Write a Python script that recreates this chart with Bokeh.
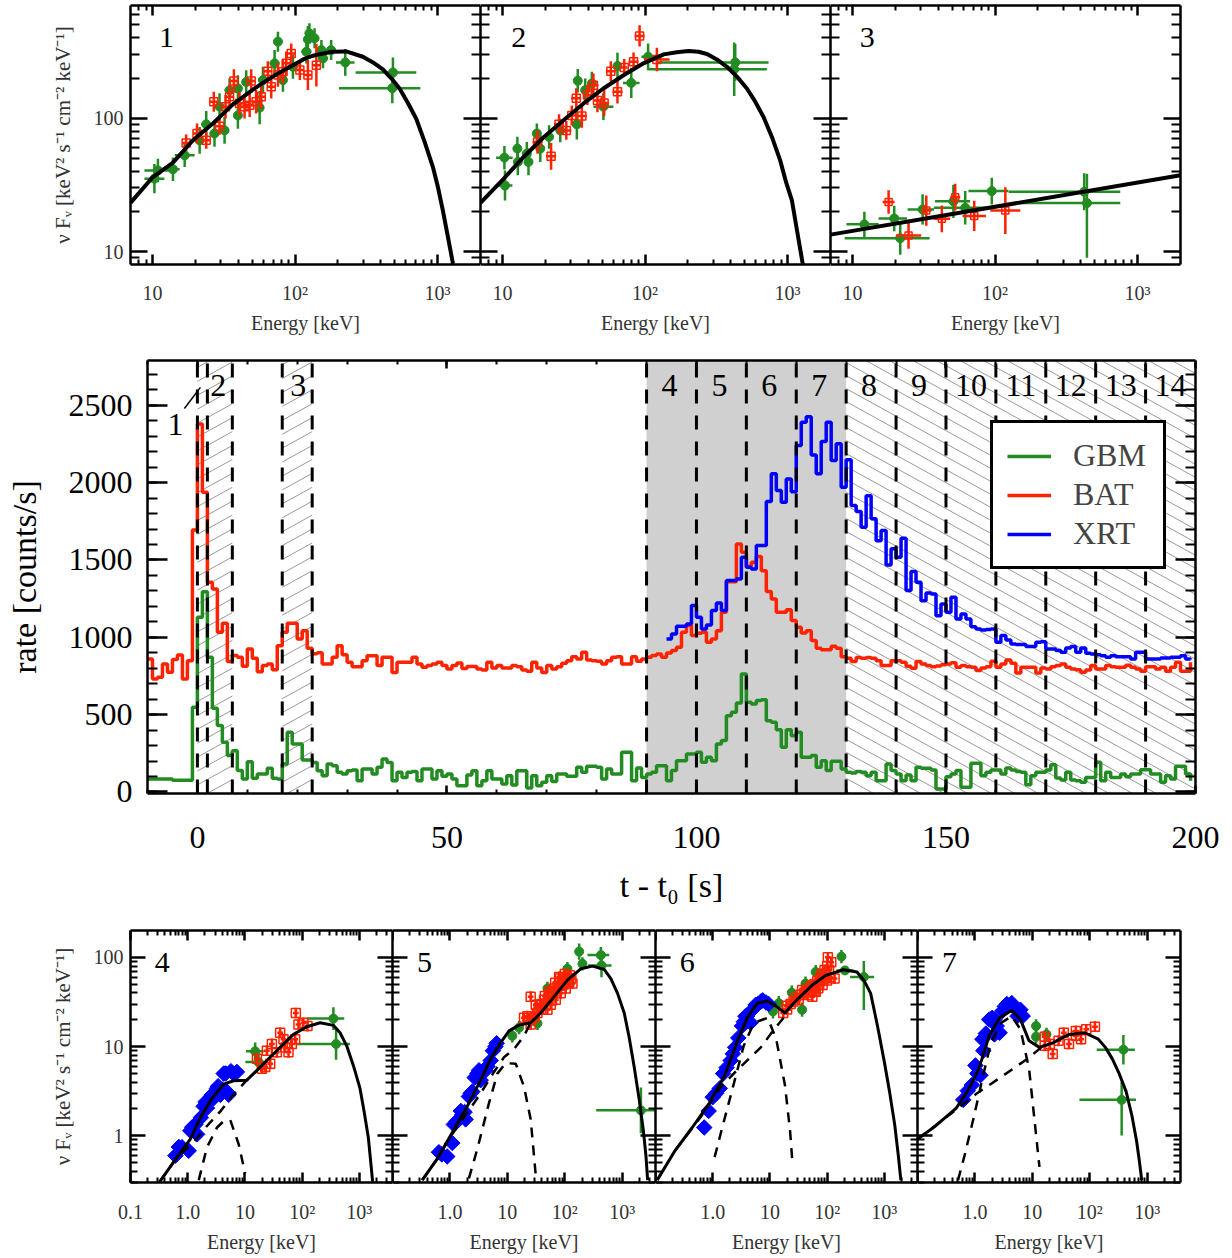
import numpy as np
from bokeh.core.properties import value
from bokeh.embed import file_html
from bokeh.layouts import column, row
from bokeh.models import FixedTicker, Legend, LegendItem, LinearAxis, LogAxis, Range1d
from bokeh.plotting import figure
from bokeh.resources import INLINE

FONT = "Liberation Serif"
GREEN = "#228B22"
RED = "#FF2200"
BLUE = "#0000FF"

# light curves, one value per 1 s bin
rate_t = np.arange(-10, 200)
xrt_t = np.arange(94, 200)
bat_rate = [860,731,741,828,774,856,886,731,849,1694,2380,1938,1356,1313,1032,1091,843,882,871,813,
            925,864,778,817,828,791,946,1032,1091,1091,989,1043,929,893,900,827,827,871,946,888,
            838,810,810,849,881,881,817,871,871,773,838,838,838,871,827,806,817,827,838,817,
            795,817,834,799,812,812,795,789,838,802,817,802,802,817,810,789,780,838,802,773,
            817,795,810,832,849,875,860,903,853,849,845,827,849,871,875,827,827,875,845,860,
            871,882,892,871,899,914,935,1032,1076,1011,1026,1032,968,989,1043,1162,1360,1360,1604,1550,
            1459,1485,1522,1431,1296,1248,1162,1162,1179,1108,1065,1028,1043,979,929,920,920,942,929,875,
            864,843,869,864,869,864,849,817,817,849,849,838,813,800,843,828,817,810,815,823,
            828,836,806,817,810,806,785,802,810,845,806,828,853,832,769,806,806,806,769,802,
            795,810,817,828,806,795,791,774,789,817,795,795,817,810,806,806,819,806,795,780,
            810,810,795,806,780,806,838,780,780,838]
gbm_rate = [84,84,84,84,84,75,75,75,75,547,1130,1295,871,541,429,321,235,267,138,84,
            196,88,116,116,153,88,84,181,386,310,310,207,206,191,137,105,181,170,127,116,
            137,142,73,148,148,116,159,213,191,73,127,94,127,133,73,148,148,84,137,101,
            116,84,40,40,109,137,40,73,137,84,84,51,105,45,137,137,25,105,40,62,
            105,68,116,116,101,101,159,127,166,166,159,84,148,116,116,256,256,73,155,94,
            116,127,170,170,73,138,202,202,246,246,256,192,224,202,310,332,493,515,575,763,
            580,569,591,597,461,450,403,289,403,364,386,224,224,235,159,202,138,198,198,149,
            127,123,133,127,105,127,73,73,181,138,116,73,109,73,159,153,153,142,19,19,
            99,116,138,30,30,185,185,105,127,142,142,116,155,142,133,127,47,105,127,127,
            142,176,90,77,127,77,73,62,94,94,192,73,127,94,94,116,99,116,116,144,
            144,116,116,62,105,84,166,166,116,73]
xrt_rate = [989,1022,1071,1071,1086,1205,1130,1054,1080,1173,1222,1173,1367,1367,1377,1518,1453,1442,1593,1593,
            1878,2057,1949,1873,2024,1942,2240,2391,2427,2179,2057,2266,2391,2143,2251,1970,2149,1852,1813,1712,
            1916,1766,1625,1690,1468,1572,1518,1640,1302,1425,1356,1237,1287,1280,1140,1216,1162,1259,1119,1151,
            1119,1069,1054,1048,1050,1054,968,1011,983,957,953,953,940,940,968,972,925,925,914,903,
            931,940,903,931,897,892,888,881,871,881,875,875,875,860,903,903,860,860,860,866,
            866,871,871,881,860,856]
interval_edges = [0, 2, 7, 17, 23, 90, 100, 110, 120, 130, 140, 150, 160, 170, 180, 190]
interval_names = ["1", "2", "3", "4", "5", "6", "7", "8", "9", "10", "11", "12", "13", "14"]
interval_t = [-4.4, 4.2, 20.2, 94.6, 104.6, 114.6, 124.6, 134.6, 144.6, 155, 165, 175, 185, 195]
interval_y = [2376, 2628, 2628, 2628, 2628, 2628, 2628, 2628, 2628, 2628, 2628, 2628, 2628, 2628]

# top row spectra
model1_e = [7,10.05,13.9,19.2,26.5,36.6,50.6,59.4,69.8,82,96.6,114,133,157,184,228,299,352,413,473,541,619,708,811,927,1005,1089,1183,1282]
model1_f = [23.2,36.2,46.4,68.3,91.2,127,164,184,205,227,250,276,294,306,315,317,289,262,232,199,167,130,99,66.4,43,30.5,20.3,12.8,8.1]
gbm1_e = [10.3,10.9,13.9,16.8,21.4,23.8,27.2,29.5,32,34.7,39.7,39.7,45.4,56.4,59.5,71.8,75.8,82.2,96.6,120,123,126,137,153,157,179,225,486,481]
gbm1_f = [35.2,40.6,41.4,52.7,68.3,90,76.8,122,81,162,105,167,187,120,193,258,375,193,243,315,390,433,397,324,281,324,262,220,168]
gbm1_xl = [.07,.094,.047,.07,.047,.035,.035,.035,.023,.035,.023,.023,.023,.023,.035,.035,.023,.023,.023,.035,.023,.023,.023,.035,.035,.035,.065,.262,.374]
gbm1_xh = [.07,.094,.047,.07,.047,.035,.035,.035,.023,.035,.023,.023,.023,.023,.035,.035,.023,.023,.023,.035,.023,.023,.023,.035,.035,.035,.065,.164,.197]
gbm1_dy = [.11,.088,.088,.088,.1,.1,.1,.1,.1,.088,.1,.1,.088,.125,.1,.1,.075,.088,.09,.088,.1,.075,.075,.075,.075,.075,.1,.113,.113]
bat1_e = [17.2,20.5,23.8,26.9,29.5,32.5,34.7,37.2,40.7,44.2,48,49.2,53.3,57.9,64.4,68,75.8,82.2,86.7,94,108,123,141]
bat1_f = [65.3,76.8,68.3,133,87,122,145,190,129,122,125,190,133,145,225,172,211,223,258,306,230,211,250]
bat1_dy = [.063,.075,.063,.075,.063,.088,.088,.088,.088,.088,.088,.088,.088,.088,.075,.088,.088,.088,.088,.075,.075,.113,.16]

model2_e = [7,10.2,14,19.4,26.8,37,51,70.6,97.5,135,167,202,237,272,319,375,441,518,593,678,776,887,977,1072,1175,1279]
model2_f = [23.2,35.2,51,72,96.6,129,167,210,258,301,312,319,315,303,276,243,205,167,133,102,72.4,48.3,33,24.2,13.6,8]
gbm2_e = [10.3,10.4,12.7,12.8,14.8,15.2,17.4,18.4,21.2,25.4,33.2,33.7,38,42.3,51,64,80,105,429,422]
gbm2_f = [50.6,31.3,59.2,47,54.2,47,76.8,59.2,72.4,81,90,191,162,182,122,246,184,289,262,233]
gbm2_xl = [.058,.052,.023,.023,.023,.028,.023,.028,.028,.028,.028,.023,.023,.023,.07,.028,.058,.047,.551,.61]
gbm2_xh = [.058,.052,.023,.023,.023,.028,.023,.028,.028,.028,.028,.023,.023,.023,.07,.028,.058,.047,.234,.229]
gbm2_dy = [.088,.113,.088,.1,.088,.1,.075,.1,.088,.088,.113,.088,.088,.088,.1,.1,.113,.1,.138,.2]
bat2_e = [17.6,21.9,24.9,28,30.6,32.9,36,39.4,43.4,46.3,51.6,57.5,64,71.4,83,91.5,121]
bat2_f = [66.4,51.8,90,81,105,141,104,149,177,136,130,225,158,240,265,414,276]
bat2_dy = [.088,.1,.075,.07,.075,.075,.088,.075,.088,.088,.1,.075,.088,.063,.07,.08,.088]
bat2_dx = [.035,.035,.035,.035,.028,.035,.035,.028,.035,.028,.035,.035,.035,.023,.035,.035,.09]

model3_e = [7, 2000]
model3_f = [13.4, 37.3]
gbm3_e = [12.1,19.6,21.6,31,51,61.7,94.8,422,441]
gbm3_f = [16,17.7,12.6,20.7,23.8,21.3,28.4,28.1,23.1]
gbm3_xl = [.126,.11,.39,.105,.129,.22,.164,.53,.47]
gbm3_xh = [.1,.089,.206,.08,.117,.15,.117,.253,.234]
gbm3_yl = [.095,.095,.125,.113,.125,.125,.1,.138,.41]
gbm3_yh = [.095,.095,.125,.113,.125,.125,.1,.138,.22]
bat3_e = [17.9,24.7,32.9,42.3,52.5,71.4,118]
bat3_f = [23.5,13.2,20.3,17.6,25.6,18.5,20.3]
bat3_dx = [.042,.089,.035,.058,.035,.082,.105]
bat3_dy = [.088,.1,.113,.1,.1,.113,.175]

# bottom row spectra
model4_e = [.325,.652,1.11,1.66,2.65,4.25,6.34,10.8,16.2,24.2,41.3,70.6,121,206,352,460,601,786,1028,1222,1436,1709]
model4_f = [.306,.577,.918,1.59,2.64,3.8,4.14,4.21,5.42,6.98,9.8,13.7,16.7,18.5,17.3,14.3,10.2,6.15,3.4,1.81,.96,.306]
pl4_e = [.325,.652,1.19,2.17,3.72,6.34,10.1,16.2]
pl4_f = [.306,.577,.81,1.29,1.88,2.88,4.03,5.42]
bb4_e = [1.56,2.17,3.25,4.25,5.55,7.76,10.1]
bb4_f = [.319,.745,1.24,1.46,1.5,.81,.378]
gbm4_e = [15.1,17.3,352,392]
gbm4_f = [8.85,6.7,20.6,10.7]
gbm4_xl = [.16,.23,.465,.69]
gbm4_xh = [.15,.12,.19,.244]
gbm4_dy = [.1,.09,.128,.176]
bat4_e = [16.2,19.8,22.7,24.2,27.7,29.6,36.1,41.3,47.2,50.5,57.8,66,75.5,77.6,86.3,105,124]
bat4_f = [7.29,5.66,5.9,9,6.42,10.7,8.63,14.3,12.1,9.8,8.63,10.7,12.1,23.8,17.7,18.5,17]
xrt4_e = [.61,.7,.796,1.04,1.11,1.2,1.36,1.46,1.7,1.9,2.05,2.17,2.32,2.5,2.65,2.84,3,3.25,3.4,3.72,4,4.25,4.6,4.85,5.19,5.7,6.34,7.25]
xrt4_f = [.6,.75,.745,.68,1.14,1.25,1.34,1.04,1.6,2.14,2.4,2.05,2.43,2.7,2.88,2.64,3,3.4,3.6,2.88,3.3,4.98,5,3.13,2.88,5.3,4.98,5.2]

model5_e = [.329,.601,1.1,2,3.43,5.12,7.65,10.7,16,25.5,38.1,65.2,111,190,304,486,634,830,1084,1325,1618,1980,2323,2590,2770]
model5_f = [.319,.553,1.09,2.14,4.21,7.29,11.1,15,17.4,18.5,23.8,36.3,55.5,74.5,79.8,73.3,57.8,39.5,23.8,12.6,5.9,2.53,1.18,.6,.319]
pl5_e = [.329,.601,1.1,2,3.43,5.85,8.75,13.1,19.5,25.5]
pl5_f = [.319,.553,1.05,1.81,3,5.2,7.6,9.4,13.2,18.5]
bb5_e = [2.14,3,4.79,6.7,9.35,14,19.5,25.5,31.2]
bb5_f = [.333,.713,2.33,4.98,6.53,6.42,3.55,1.53,.363]
gbm5_e = [12.2,16,33.4,49.9,111,178,203,425,436,2118]
gbm5_f = [13.2,16.3,18.2,44.9,74.5,116,84.6,106,81,1.93]
gbm5_xl = [.06,.06,.06,.06,.06,.06,.06,.233,.233,.78]
gbm5_xh = [.06,.06,.06,.06,.06,.06,.06,.145,.175,.35]
gbm5_dy = [.075,.075,.075,.075,.075,.09,.075,.09,.13,.257]
bat5_e = [19.5,22.3,25.5,29.2,31.2,33.4,38.1,43.6,46.7,49.9,53.3,57,65.2,69.7,79.6,85.1,91,97.3,104,119,136,25.5,
          30,35,40,45,52,60,68,75,82,90,100,110,122,130,60,72,85,95]
bat5_f = [21,21.9,17.7,21,29.4,23.8,25.9,33.4,29.4,25.9,41.2,29.4,44.9,33.4,60.3,39.5,48.9,60.3,44.9,53.1,50.9,36.3,
          22,27,30,37,35,42,52,47,58,55,65,60,63,58,33,40,48,52]
xrt5_e = [.643,.72,.897,1.1,1.17,1.3,1.44,1.55,1.64,1.8,1.88,2.14,2.3,2.45,2.7,3,3.21,3.43,3.6,4.19,4.5,5.12,5.6,6.2,6.52]
xrt5_f = [.655,.62,.587,.83,1.34,1.45,1.53,1.9,1.73,1.85,1.53,2.76,3,3.13,4.5,4.98,5.42,4.21,5.2,5.42,6,6.98,9,10,10.9]

model6_e = [.107,.22,.439,.875,1.63,2.64,4,6.05,9.16,12.9,18.3,27.7,55.1,95.7,191,332,438,577,760,1002,1233,1517,1742,1945]
model6_f = [.319,.684,1.24,2.33,4.78,11.1,21,30.7,32.5,28.2,23.8,32,48.9,62.9,72.6,68.5,55.5,39.5,17,6.7,3.13,1.34,.628,.319]
pl6_e = [.22,.664,1.33,2.64,6.95,11.3,18.3]
pl6_f = [.684,1.73,3.4,5.42,9.8,15,21.9]
bb6_e = [1.08,1.42,2.15,3.48,5.27,9.16,12.9,18.3,22.5,24.8]
bb6_f = [.577,1.14,3.13,10.2,18.5,21,12.1,3.71,1.14,.488]
gbm6_e = [11.3,14.3,24.1,36.5,41.9,63.2,178,205,438]
gbm6_f = [24.8,30.7,40.2,25.9,50.9,68.5,102,71.4,60.3]
gbm6_xl = [.06,.06,.06,.06,.06,.06,.03,.15,.24]
gbm6_xh = [.06,.06,.06,.06,.06,.06,.03,.15,.18]
gbm6_yl = [.08,.08,.08,.08,.08,.08,.075,.05,.37]
gbm6_yh = [.08,.08,.08,.08,.08,.08,.075,.05,.18]
bat6_e = [17.1,19.6,25.8,31.8,36.5,44.9,51.5,55.2,63.2,72.6,83.4,95.7,103,118,135,
          20,23,28,34,40,47,53,60,67,75,82,90,100,108,112,100,90,80,70,60]
bat6_f = [23.8,28.7,32,33.4,43,37.9,46.8,36.3,41.2,48.9,48.9,65.6,100,88.3,57.8,
          26,30,35,38,40,42,48,50,54,58,60,72,80,72,60,55,58,65,45,42]
xrt6_e = [.711,.85,1,1.15,1.33,1.52,1.75,2.06,2.25,2.47,2.8,3.25,3.5,3.73,4,4.59,5,5.65,6.2,6.95,7.5,8.55,9.5]
xrt6_f = [1.24,1.9,2.71,3,3.4,4.98,5.8,6.98,8.3,9.8,12.5,17,19,21.9,22,18.5,26,29.4,30,32,33,31.2,30]

model7_e = [.1,.206,.474,.771,1.17,1.77,2.69,4.38,6.2,8.77,13.3,23.2,43.4,81.1,141,187,247,325,430,544,652,728,803]
model7_f = [.918,1.29,2.05,3.27,5.66,13.2,21,25.5,20.1,11.6,9.8,11.1,13.7,14.3,12.1,9.8,7.29,4.98,3.13,1.66,.881,.53,.319]
pl7_e = [.1,.237,.474,1.09,2.88,8.18,14.3]
pl7_f = [.918,1.4,1.97,3,4.58,7.29,9.8]
bb7_e = [.508,.671,.95,1.35,1.9,2.88,4.38,6.2,8.77,10.8,13.3]
bb7_f = [.319,.628,1.59,4.39,11.1,18.5,21.9,15.6,5.66,1.59,.448]
gbm7_e = [11.6,11.6,17.6,385,359]
gbm7_f = [17,12.9,13.7,9.24,2.53]
gbm7_xl = [.06,.06,.06,.465,.735]
gbm7_xh = [.06,.06,.06,.2,.25]
gbm7_yl = [.075,.075,.075,.165,.4]
gbm7_yh = [.075,.075,.075,.165,.2]
bat7_e = [16.4,16.4,20.2,22.6,28.6,35.2,43.4,57.3,57.3,70.5,86.9,123]
bat7_f = [12.9,10.2,10.7,8.28,11.6,14.3,10.7,13.2,15,12.1,15.6,16.7]
xrt7_e = [.627,.75,.885,1.02,1.1,1.25,1.35,1.4,1.55,1.77,2,2.19,2.19,2.4,2.69,3,3.32,3.6,4.38,4.8,5.5,6.2,6.8]
xrt7_f = [2.53,3.2,3.71,6.15,5,4.78,12.1,9,14,20.1,21,20.1,13.7,17,14.3,25,28.2,30,30.7,28,22,25.9,22]

top_x_major = [10, 100, 1000]
top_y_major = [10, 100]
bot_x_major = [0.1, 1, 10, 100, 1000]
bot_y_major = [1, 10, 100]
mantissa = [2, 3, 4, 5, 6, 7, 8, 9]
flux_label = "\u03bd F\u1d65 [keV\u00b2 s\u207b\u00b9 cm\u207b\u00b2 keV\u207b\u00b9]"


def decades(major, lo, hi):
    minors = [m * d for d in major + [major[0] / 10] for m in mantissa]
    return FixedTicker(ticks=major, minor_ticks=[v for v in minors if lo < v < hi])


def style_axis(ax, major, minor, size="20px", color="#333333", standoff=18):
    ax.major_tick_in = major
    ax.major_tick_out = 0
    ax.minor_tick_in = minor
    ax.minor_tick_out = 0
    ax.axis_line_width = 2.5
    ax.major_tick_line_width = 2.5
    ax.minor_tick_line_width = 2
    ax.major_label_text_font = FONT
    ax.major_label_text_font_size = size
    ax.major_label_text_color = color
    ax.major_label_standoff = standoff
    ax.axis_label_text_font = FONT
    ax.axis_label_text_font_style = "normal"
    ax.axis_label_text_font_size = size
    ax.axis_label_text_color = color


def bare_axis(ax, major, minor):
    # frame side: ticks only, labels blanked
    style_axis(ax, major, minor, standoff=0)
    ax.major_label_text_font_size = "1px"
    ax.major_label_text_color = None


def spectrum_panel(width, height, borders, xlim, ylim, x_major, y_major, x_labels, y_labels, xticks, yticks,
                   show_y, tick_gap, label_gap):
    left, right, top, bottom = borders
    p = figure(width=width, height=height, x_axis_type="log", y_axis_type="log",
               x_range=Range1d(*xlim), y_range=Range1d(*ylim),
               min_border_left=left, min_border_right=right, min_border_top=top, min_border_bottom=bottom,
               toolbar_location=None, output_backend="svg", outline_line_color=None)
    p.grid.visible = False
    p.xaxis.ticker = decades(x_major, *xlim)
    p.yaxis.ticker = decades(y_major, *ylim)
    style_axis(p.xaxis[0], xticks[0], xticks[1], standoff=tick_gap)
    p.xaxis.major_label_overrides = x_labels
    p.xaxis.axis_label = "Energy [keV]"
    p.xaxis.axis_label_standoff = label_gap
    if show_y:
        style_axis(p.yaxis[0], yticks[0], yticks[1], standoff=7)
        p.yaxis.major_label_overrides = y_labels
        p.yaxis.axis_label = flux_label
        p.yaxis.axis_label_text_font_size = "21px"
        p.yaxis.axis_label_standoff = 16
    else:
        bare_axis(p.yaxis[0], *yticks)
    for ax, where, major, minor, tk in [(LogAxis(), "above", *xticks, decades(x_major, *xlim)),
                                        (LogAxis(), "right", *yticks, decades(y_major, *ylim))]:
        ax.ticker = tk
        bare_axis(ax, major, minor)
        p.add_layout(ax, where)
    return p


def error_points(p, e, f, xl, dy, color, marker, size, xh=None, yh=None):
    e, f, xl, dy = map(np.array, (e, f, xl, dy))
    xh = xl if xh is None else np.array(xh)
    yh = dy if yh is None else np.array(yh)
    p.segment(e * 10 ** -xl, f, e * 10 ** xh, f, line_color=color, line_width=2.5)
    p.segment(e, f * 10 ** -dy, e, f * 10 ** yh, line_color=color, line_width=2.5)
    if marker == "square":
        p.scatter(e, f, marker="square", size=size, fill_color=None, line_color=color, line_width=1.5)
    else:
        p.scatter(e, f, marker="circle", size=size, fill_color=color, line_color=color)


def tag(p, x, y, text, size):
    p.text([x], [y], text=[text], text_align="center", text_baseline="middle",
           text_font=value(FONT), text_font_size=size, text_color="black")


top_x_labels = {10: "10", 100: "10\u00b2", 1000: "10\u00b3"}
top_y_labels = {10: "10", 100: "100"}
bot_x_labels = {1: "1.0", 10: "10", 100: "10\u00b2", 1000: "10\u00b3"}
bot_y_labels = {1: "1", 10: "10", 100: "100"}
top_args = dict(height=342, xlim=(7, 2000), ylim=(8, 700), x_major=top_x_major, y_major=top_y_major,
                x_labels=top_x_labels, y_labels=top_y_labels, xticks=(10, 5), yticks=(17, 9),
                tick_gap=17, label_gap=5)
bot_args = dict(height=340, xlim=(0.1, 3800), ylim=(0.3, 200), x_major=bot_x_major, y_major=bot_y_major,
                y_labels=bot_y_labels, xticks=(10, 5), yticks=(15, 7), tick_gap=18, label_gap=5)

# top row
p1 = spectrum_panel(width=480, borders=(130, 0, 2, 81), show_y=True, **top_args)
error_points(p1, gbm1_e, gbm1_f, gbm1_xl, gbm1_dy, GREEN, "circle", 9, xh=gbm1_xh)
error_points(p1, bat1_e, bat1_f, [.028] * len(bat1_e), bat1_dy, RED, "square", 8)
p1.line(model1_e, model1_f, line_color="black", line_width=4)
tag(p1, 12.5, 400, "1", "30px")

p2 = spectrum_panel(width=350, borders=(0, 0, 2, 81), show_y=False, **top_args)
error_points(p2, gbm2_e, gbm2_f, gbm2_xl, gbm2_dy, GREEN, "circle", 9, xh=gbm2_xh)
error_points(p2, bat2_e, bat2_f, bat2_dx, bat2_dy, RED, "square", 8)
p2.line(model2_e, model2_f, line_color="black", line_width=4)
tag(p2, 13, 400, "2", "30px")

p3 = spectrum_panel(width=354, borders=(0, 4, 2, 81), show_y=False, **top_args)
error_points(p3, gbm3_e, gbm3_f, gbm3_xl, gbm3_yl, GREEN, "circle", 9, xh=gbm3_xh, yh=gbm3_yh)
error_points(p3, bat3_e, bat3_f, bat3_dx, bat3_dy, RED, "square", 7)
p3.line(model3_e, model3_f, line_color="black", line_width=4)
tag(p3, 12.7, 400, "3", "30px")

# light curve
mid = figure(width=1220, height=570, x_range=Range1d(-10, 200), y_range=Range1d(-10, 2790),
             min_border_left=147, min_border_right=25, min_border_top=15, min_border_bottom=122,
             toolbar_location=None, output_backend="svg", outline_line_color=None)
mid.grid.visible = False
mid.xaxis.ticker = FixedTicker(ticks=[0, 50, 100, 150, 200], minor_ticks=list(range(-10, 200, 10)))
mid.yaxis.ticker = FixedTicker(ticks=[0, 500, 1000, 1500, 2000, 2500], minor_ticks=list(range(0, 2800, 100)))
style_axis(mid.xaxis[0], 8, 4, size="32px", color="black", standoff=33)
style_axis(mid.yaxis[0], 20, 10, size="32px", color="black", standoff=15)
mid.xaxis.axis_label = "t - t\u2080 [s]"
mid.yaxis.axis_label = "rate [counts/s]"
mid.xaxis.axis_label_text_font_size = "34px"
mid.yaxis.axis_label_text_font_size = "34px"
mid.xaxis.axis_label_standoff = 16
mid.yaxis.axis_label_standoff = 23
for ax, where, major, minor, ticks in [(LinearAxis(), "above", 8, 4, mid.xaxis[0].ticker),
                                       (LinearAxis(), "right", 20, 10, mid.yaxis[0].ticker)]:
    ax.ticker = FixedTicker(ticks=ticks.ticks, minor_ticks=ticks.minor_ticks)
    bare_axis(ax, major, minor)
    mid.add_layout(ax, where)

mid.quad(left=[90], right=[130], bottom=[-10], top=[2790], fill_color="#D0D0D0", line_color=None)


def hatch_lines(t0, t1, slope, spacing, y0=-10, y1=2790):
    xs, ys = [], []
    rise = abs(slope) * (t1 - t0)
    for c in np.arange(y0 - rise, y1 + rise, spacing):
        ends = [t0, t1, t0 + (y0 - c) / slope, t0 + (y1 - c) / slope]
        ta, tb = sorted(ends)[1:3]
        if c + slope * (ta - t0) > y1 + 1 or c + slope * (ta - t0) < y0 - 1:
            continue
        xs.append([ta, tb])
        ys.append([c + slope * (ta - t0), c + slope * (tb - t0)])
    return xs, ys


for t0, t1, slope, spacing in [(0, 7, 17.8, 90), (17, 23, 17.8, 90), (130, 200, -17.8, 84)]:
    xs, ys = hatch_lines(t0, t1, slope, spacing)
    mid.multi_line(xs, ys, line_color="#9A9A9A", line_width=1)

gbm_line = mid.step(rate_t, gbm_rate, mode="after", line_color=GREEN, line_width=3.5)
bat_line = mid.step(rate_t, bat_rate, mode="after", line_color=RED, line_width=3.5)
xrt_line = mid.step(xrt_t, xrt_rate, mode="after", line_color=BLUE, line_width=3.5)
mid.segment(interval_edges, -10, interval_edges, 2790, line_color="black", line_width=3, line_dash="14 12")
mid.segment([-2.6], [2480], [0.6], [2616], line_color="black", line_width=1.5)
mid.text(interval_t, interval_y, text=interval_names, text_align="center", text_baseline="middle",
         text_font=value(FONT), text_font_size="32px", text_color="black")
legend = Legend(items=[LegendItem(label="GBM", renderers=[gbm_line]),
                       LegendItem(label="BAT", renderers=[bat_line]),
                       LegendItem(label="XRT", renderers=[xrt_line])],
                location=(843, 224), glyph_width=44, glyph_height=30, label_standoff=22, label_width=76,
                spacing=2, padding=14, margin=0, border_line_color="black", border_line_width=3,
                border_line_alpha=1, background_fill_alpha=1,
                label_text_font=FONT, label_text_font_size="32px", label_height=30)
mid.add_layout(legend)

# bottom row
bottoms = []
panels = [
    (model4_e, model4_f, pl4_e, pl4_f, bb4_e, bb4_f, gbm4_e, gbm4_f, gbm4_xl, gbm4_xh, gbm4_dy, None, bat4_e, bat4_f, xrt4_e, xrt4_f, "4"),
    (model5_e, model5_f, pl5_e, pl5_f, bb5_e, bb5_f, gbm5_e, gbm5_f, gbm5_xl, gbm5_xh, gbm5_dy, None, bat5_e, bat5_f, xrt5_e, xrt5_f, "5"),
    (model6_e, model6_f, pl6_e, pl6_f, bb6_e, bb6_f, gbm6_e, gbm6_f, gbm6_xl, gbm6_xh, gbm6_yl, gbm6_yh, bat6_e, bat6_f, xrt6_e, xrt6_f, "6"),
    (model7_e, model7_f, pl7_e, pl7_f, bb7_e, bb7_f, gbm7_e, gbm7_f, gbm7_xl, gbm7_xh, gbm7_yl, gbm7_yh, bat7_e, bat7_f, xrt7_e, xrt7_f, "7"),
]
for i, (me, mf, pe, pf, be, bf, ge, gf, gxl, gxh, gyl, gyh, re, rf, xe, xf, name) in enumerate(panels):
    first = i == 0
    widths = [392, 263, 262, 267]
    borders = [(130, 0, 15, 70), (0, 0, 15, 70), (0, 0, 15, 70), (0, 4, 15, 70)]
    labels = dict(bot_x_labels)
    labels[0.1] = "0.1" if first else " "
    p = spectrum_panel(width=widths[i], borders=borders[i], show_y=first, x_labels=labels, **bot_args)
    error_points(p, ge, gf, gxl, gyl, GREEN, "circle", 9, xh=gxh, yh=gyh)
    error_points(p, re, rf, [.05] * len(re), [.06] * len(re), RED, "square", 9)
    p.scatter(xe, xf, marker="square", angle=np.pi / 4, size=11, fill_color=BLUE, line_color=BLUE)
    p.line(pe, pf, line_color="black", line_width=2.5, line_dash="10 8")
    p.line(be, bf, line_color="black", line_width=2.5, line_dash="10 8")
    p.line(me, mf, line_color="black", line_width=3)
    tag(p, 0.36, 87, name, "30px")
    bottoms.append(p)

page = column(row(p1, p2, p3, spacing=0), mid, row(*bottoms, spacing=0), spacing=0, margin=(3, 0, 0, 0))
open("out.html", "w").write(file_html(page, INLINE))
